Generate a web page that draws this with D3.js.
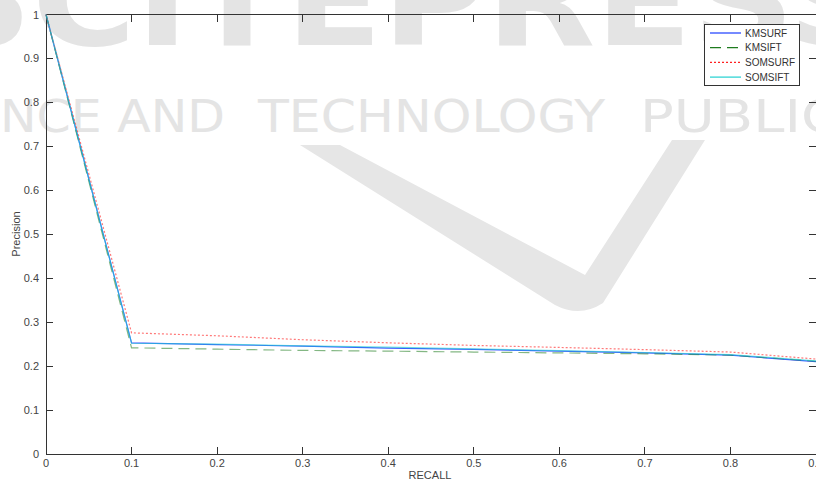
<!DOCTYPE html>
<html>
<head>
<meta charset="utf-8">
<script src="https://cdn.jsdelivr.net/npm/d3@7"></script>
<style>
  body { margin: 0; background: #fff; }
  svg { display: block; }
</style>
</head>
<body>
<svg width="816" height="480"></svg>
<script>
// recall / precision values
const recall = [0, 0.1, 0.2, 0.3, 0.4, 0.5, 0.6, 0.7, 0.8, 0.9];
const kmsurf = [1, 0.253, 0.249, 0.2455, 0.241, 0.238, 0.234, 0.230, 0.225, 0.210];
const kmsift = [1, 0.2416, 0.2386, 0.2357, 0.234, 0.232, 0.230, 0.228, 0.225, 0.211];
const somsurf = [1, 0.2757, 0.269, 0.260, 0.253, 0.247, 0.2425, 0.2375, 0.232, 0.216];
const somsift = [1, 0.252, 0.250, 0.246, 0.243, 0.239, 0.235, 0.231, 0.226, 0.212];

const seriesNames = ["KMSURF", "KMSIFT", "SOMSURF", "SOMSIFT"];
const xTicks = [0, 0.1, 0.2, 0.3, 0.4, 0.5, 0.6, 0.7, 0.8, 0.9];
const yTicks = [0, 0.1, 0.2, 0.3, 0.4, 0.5, 0.6, 0.7, 0.8, 0.9, 1];

const styles = [
  { color: "#1a3cff", dash: null, opacity: 0.85 },
  { color: "#1e7b1e", dash: "11,6", opacity: 0.55 },
  { color: "#ff2020", dash: "2,2", opacity: 0.6 },
  { color: "#20d0d0", dash: null, opacity: 0.6 }
];

const series = [kmsurf, kmsift, somsurf, somsift].map((vals, k) => ({
  name: seriesNames[k],
  points: vals.map((v, i) => [recall[i], v]),
  style: styles[k]
}));

const svg = d3.select("svg");
const x = d3.scaleLinear().domain([0, 0.9]).range([46, 816]);
const y = d3.scaleLinear().domain([0, 1]).range([454, 14.5]);

// publisher watermark (light grey, behind the plot)
const wm = svg.append("g").attr("fill", "#e4e4e4").attr("font-family", "DejaVu Sans");
wm.append("text").attr("x", -70).attr("y", 45).attr("font-size", 125).attr("font-weight", "bold")
  .attr("textLength", 960).attr("lengthAdjust", "spacingAndGlyphs").text("SCITEPRESS");
wm.append("text").attr("x", 0).attr("y", 132).attr("font-size", 44)
  .attr("textLength", 225).attr("lengthAdjust", "spacingAndGlyphs").text("NCE AND");
wm.append("text").attr("x", 258).attr("y", 132).attr("font-size", 44)
  .attr("textLength", 347).attr("lengthAdjust", "spacingAndGlyphs").text("TECHNOLOGY");
wm.append("text").attr("x", 640).attr("y", 132).attr("font-size", 44)
  .attr("textLength", 200).attr("lengthAdjust", "spacingAndGlyphs").text("PUBLIC");
wm.append("path")
  .attr("d", "M300,145 L555,305 Q580,318 603,303 L705,140 L672,140 L585,275 L340,145 Z")
  .attr("fill", "#e6e6e6");

// axes box with inward ticks
const axisColor = "#333";
const frame = svg.append("g").attr("stroke", axisColor).attr("stroke-width", 1).attr("shape-rendering", "crispEdges");
frame.append("rect").attr("x", x(0)).attr("y", y(1)).attr("width", x(0.9) - x(0)).attr("height", y(0) - y(1)).attr("fill", "none");

const tickLen = 7;
xTicks.forEach(t => {
  frame.append("line").attr("x1", x(t)).attr("x2", x(t)).attr("y1", y(0)).attr("y2", y(0) - tickLen);
  frame.append("line").attr("x1", x(t)).attr("x2", x(t)).attr("y1", y(1)).attr("y2", y(1) + tickLen);
});
yTicks.forEach(t => {
  frame.append("line").attr("x1", x(0)).attr("x2", x(0) + tickLen).attr("y1", y(t)).attr("y2", y(t));
  frame.append("line").attr("x1", x(0.9)).attr("x2", x(0.9) - tickLen).attr("y1", y(t)).attr("y2", y(t));
});

const labels = svg.append("g").attr("font-family", "Liberation Sans, Arial, sans-serif").attr("font-size", 11).attr("fill", "#444");
labels.selectAll(".xt").data(xTicks).enter().append("text")
  .attr("x", d => x(d)).attr("y", 467).attr("text-anchor", "middle")
  .text(d => d3.format("~g")(d));
labels.selectAll(".yt").data(yTicks).enter().append("text")
  .attr("x", 39).attr("y", d => y(d) + 4).attr("text-anchor", "end")
  .text(d => d3.format("~g")(d));
labels.append("text").attr("x", 430).attr("y", 479).attr("text-anchor", "middle").text("RECALL");
labels.append("text").attr("transform", "translate(20,234) rotate(-90)").attr("text-anchor", "middle").text("Precision");

// curves
const line = d3.line().x(d => x(d[0])).y(d => y(d[1]));
svg.append("g").selectAll("path").data(series).enter().append("path")
  .attr("d", d => line(d.points))
  .attr("fill", "none")
  .attr("stroke", d => d.style.color)
  .attr("stroke-opacity", d => d.style.opacity)
  .attr("stroke-width", 1.2)
  .attr("stroke-dasharray", d => d.style.dash);

// legend
const lg = svg.append("g");
lg.append("rect").attr("x", 704.5).attr("y", 24.5).attr("width", 95).attr("height", 61)
  .attr("fill", "#fff").attr("stroke", axisColor).attr("shape-rendering", "crispEdges");
series.forEach((s, i) => {
  const ly = 33 + i * 14.7;
  lg.append("line").attr("x1", 710).attr("x2", 741).attr("y1", ly).attr("y2", ly)
    .attr("stroke", s.style.color).attr("stroke-width", 1.2)
    .attr("stroke-dasharray", s.style.dash);
  lg.append("text").attr("x", 745).attr("y", ly + 3.5)
    .attr("font-family", "Liberation Sans, Arial, sans-serif").attr("font-size", 10).attr("fill", "#333")
    .text(s.name);
});
</script>
</body>
</html>
